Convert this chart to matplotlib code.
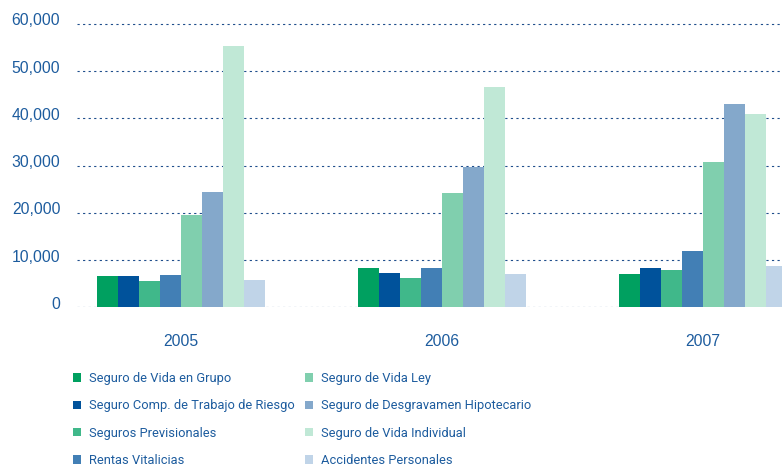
import matplotlib as mpl
mpl.use('Agg')
import matplotlib.pyplot as plt
import matplotlib.transforms as mtransforms
import numpy as np

# data
years = ['2005', '2006', '2007']
series = [
    'Seguro de Vida en Grupo',
    'Seguro Comp. de Trabajo de Riesgo',
    'Seguros Previsionales',
    'Rentas Vitalicias',
    'Seguro de Vida Ley',
    'Seguro de Desgravamen Hipotecario',
    'Seguro de Vida Individual',
    'Accidentes Personales',
]
values = [
    [6600, 8300, 7050],
    [6600, 7250, 8300],
    [5550, 6200, 7900],
    [6850, 8300, 11900],
    [19500, 24150, 30750],
    [24400, 29700, 43000],
    [55300, 46600, 40900],
    [5800, 7050, 8750],
]
colors = ['#00a060', '#00529b', '#40b88a', '#427fb5',
          '#80cfae', '#84a8cb', '#c0e8d6', '#c0d4e8']
yticks = [0, 10000, 20000, 30000, 40000, 50000, 60000]

text_color = '#1d5c9e'
tick_font = ['Liberation Sans', 'DejaVu Sans']
legend_font = ['Roboto', 'DejaVu Sans']
legend_size = 9.3

fig = plt.figure(figsize=(7.82, 4.67), dpi=100)
ax = fig.add_axes([77 / 782, (467 - 307.3) / 467, 705 / 782, 288.3 / 467])

x = np.arange(len(years))
width = 0.0805
bars = []
for i, (name, vals) in enumerate(zip(series, values)):
    offset = (i - 3.5) * width
    b = ax.bar(x + offset, vals, width, color=colors[i], label=name, zorder=2)
    bars.append(b)

ax.set_xlim(-0.3985, 2.3027)
ax.set_ylim(0, 61000)
ax.set_yticks(yticks)
ax.set_yticklabels(['0' if v == 0 else f'{v:,}' for v in yticks])
ax.set_xticks(x)
ax.set_xticklabels(years)

ax.yaxis.grid(True, color='#1f4e8c', linewidth=0.8, linestyle=(0, (2, 3)))
ax.set_axisbelow(True)
for s in ax.spines.values():
    s.set_visible(False)
ax.tick_params(axis='both', length=0, colors=text_color, labelsize=11.3)
ax.tick_params(axis='y', pad=12)
ax.tick_params(axis='x', pad=19.5)
for lbl in ax.get_yticklabels() + ax.get_xticklabels():
    lbl.set_family(tick_font)
# lift y labels a bit above the grid lines
shift = mtransforms.ScaledTranslation(0, 3.2 / 72, fig.dpi_scale_trans)
for lbl in ax.get_yticklabels():
    lbl.set_transform(lbl.get_transform() + shift)

# legend in two columns
handles = [b[0] for b in bars]
kw = dict(frameon=False, loc='upper left', borderpad=0, borderaxespad=0,
          handlelength=0.65, handleheight=0.65, handletextpad=0.6,
          labelspacing=1.1, labelcolor=text_color,
          prop={'family': legend_font, 'size': legend_size})
leg1 = fig.legend(handles[:4], series[:4], bbox_to_anchor=(73 / 782, 0.203), **kw)
leg2 = fig.legend(handles[4:], series[4:], bbox_to_anchor=(305 / 782, 0.203), **kw)

fig.savefig('out.png', dpi=100)
